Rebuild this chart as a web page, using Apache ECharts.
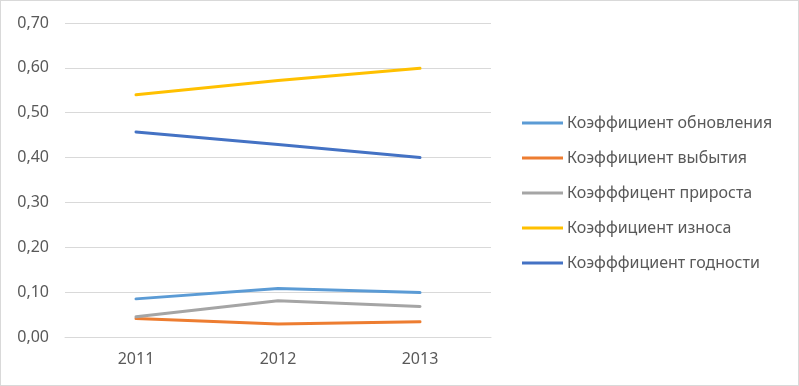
<!DOCTYPE html>
<html>
<head>
<meta charset="utf-8">
<script src="https://cdn.jsdelivr.net/npm/echarts@6/dist/echarts.min.js"></script>
<style>
html,body{margin:0;padding:0;background:#fff;}
#c{width:799px;height:386px;box-sizing:border-box;border:1px solid #d9d9d9;}
</style>
</head>
<body>
<div id="c"></div>
<script>
const years = ['2011', '2012', '2013'];
const seriesNames = ['Коэффициент обновления', 'Коэффициент выбытия', 'Коэфффицент прироста', 'Коэффициент износа', 'Коэфффициент годности'];
const renewal = [0.085, 0.108, 0.099];
const disposal = [0.041, 0.029, 0.034];
const growth = [0.045, 0.081, 0.068];
const wear = [0.540, 0.572, 0.599];
const fitness = [0.457, 0.429, 0.400];
const colors = ['#5b9bd5', '#ed7d31', '#a5a5a5', '#ffc000', '#4472c4'];
const yTicks = { min: 0, max: 0.7, interval: 0.1 };

const values = [renewal, disposal, growth, wear, fitness];
const chart = echarts.init(document.getElementById('c'));
const font = '"Noto Sans", "Open Sans", sans-serif';
chart.setOption({
  animation: false,
  color: colors,
  grid: { left: 64, right: 307, top: 22, bottom: 48 },
  legend: {
    orient: 'vertical',
    left: 521,
    top: 112,
    padding: 0,
    itemWidth: 41,
    itemHeight: 3,
    itemGap: 15,
    icon: 'rect',
    textStyle: { color: '#595959', fontSize: 16, fontFamily: font, lineHeight: 20, padding: [0, 0, 0, -1] },
    data: seriesNames
  },
  xAxis: {
    type: 'category',
    data: years,
    boundaryGap: true,
    axisLine: { show: true, lineStyle: { color: '#d9d9d9', width: 1 } },
    axisTick: { show: false },
    axisLabel: { color: '#595959', fontSize: 16, fontFamily: font, margin: 14 }
  },
  yAxis: {
    type: 'value',
    min: yTicks.min, max: yTicks.max, interval: yTicks.interval,
    axisLine: { show: false },
    axisTick: { show: false },
    splitLine: { lineStyle: { color: '#d9d9d9', width: 1 } },
    axisLabel: {
      color: '#595959', fontSize: 16, fontFamily: font, margin: 16,
      formatter: v => v.toFixed(2).replace('.', ',')
    }
  },
  series: seriesNames.map((n, i) => ({
    name: n,
    type: 'line',
    data: values[i],
    showSymbol: false,
    symbol: 'none',
    lineStyle: { width: 3, cap: 'round', join: 'round' }
  }))
});
</script>
</body>
</html>
